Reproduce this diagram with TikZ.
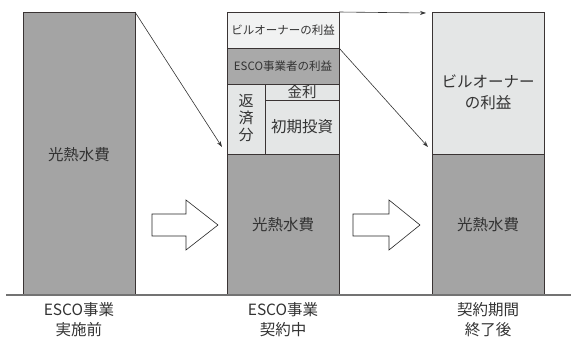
\documentclass[tikz,border=0pt]{standalone}
\usepackage{fontspec}
\setmainfont{Noto Sans CJK JP}
\usetikzlibrary{arrows.meta}
\definecolor{dkgray}{HTML}{A4A4A4}
\definecolor{midgray}{HTML}{A9A9A9}
\definecolor{ltgray}{HTML}{E4E6E6}
\definecolor{wgray}{HTML}{F1F2F2}
\definecolor{edge}{HTML}{3A3434}
\definecolor{txt}{HTML}{333333}
\tikzset{
  seg/.style={draw=edge, line width=0.9pt, inner sep=0pt, outer sep=0pt},
  lbl/.style={font=\fontsize{15.5}{20}\selectfont, text=txt, align=center, inner sep=0pt},
  small/.style={font=\fontsize{11.5}{13}\selectfont, text=txt, inner sep=0pt},
  ptr/.style={draw=black!80, line width=0.6pt, -{Stealth[length=6pt,width=4pt]}},
  bigarrow/.style={draw=black!85, fill=white, line width=0.6pt, line join=miter}
}
\begin{document}
\begin{tikzpicture}[x=1pt,y=-1pt]
\useasboundingbox (0,0) rectangle (571,340);
% left bar
\node[seg, fill=dkgray, minimum width=112pt, minimum height=283pt, anchor=north west] (L) at (23,12) {};
\node[lbl] (Lt) at (79,155) {光熱水費};
% middle bar
\node[seg, fill=wgray, minimum width=112pt, minimum height=36pt, anchor=north west] (Mo) at (227,12) {};
\node[small] (Mot) at (Mo.center) {ビルオーナーの利益};
\node[seg, fill=midgray, minimum width=112pt, minimum height=36pt, anchor=north west] (Me) at (227,48) {};
\node[small] (Met) at (Me.center) {ESCO事業者の利益};
\node[seg, fill=ltgray, minimum width=38pt, minimum height=70pt, anchor=north west] (Mr) at (227,84) {};
\node[lbl, font=\fontsize{15}{17}\selectfont] (Mrt) at (246,118) {返\\済\\分};
\node[seg, fill=ltgray, minimum width=74pt, minimum height=16pt, anchor=north west] (Mk) at (265,84) {};
\node[lbl, font=\fontsize{14.5}{15}\selectfont] (Mkt) at (302,91.5) {金利};
\node[seg, fill=ltgray, minimum width=74pt, minimum height=54pt, anchor=north west] (Mi) at (265,100) {};
\node[lbl, font=\fontsize{15.5}{17}\selectfont] (Mit) at (Mi.center) {初期投資};
\node[seg, fill=dkgray, minimum width=112pt, minimum height=141pt, anchor=north west] (Mc) at (227,154) {};
\node[lbl] (Mct) at (283,225) {光熱水費};
% right bar
\node[seg, fill=ltgray, minimum width=112pt, minimum height=142pt, anchor=north west] (Ro) at (432,12) {};
\node[lbl, font=\fontsize{15.5}{21}\selectfont] (Rot) at (488,92) {ビルオーナー\\の利益};
\node[seg, fill=dkgray, minimum width=112pt, minimum height=141pt, anchor=north west] (Rc) at (432,154) {};
\node[lbl] (Rct) at (488,225) {光熱水費};
% baseline
\coordinate (b0) at (6,295);
\coordinate (b1) at (571,295);
\draw[draw=black!55, line width=1.4pt] (b0) -- (b1);
% bottom labels
\node[lbl] (B1) at (79,320) {ESCO事業\\実施前};
\node[lbl] (B2) at (283,320) {ESCO事業\\契約中};
\node[lbl] (B3) at (488,320) {契約期間\\終了後};
% pointer arrows
\coordinate (p1) at (222,147);
\coordinate (p2) at (426,13);
\coordinate (p3) at (428,147);
\draw[ptr] (L.north east) -- (p1);
\draw[ptr] (Mo.north east) -- (p2);
\draw[ptr] (Me.north east) -- (p3);
% block arrows
\draw[bigarrow] (152,214) -- (186,214) -- (186,200) -- (218,225) -- (186,250) -- (186,236) -- (152,236) -- cycle;
\draw[bigarrow] (353,214) -- (389,214) -- (389,200) -- (420,225) -- (389,250) -- (389,236) -- (353,236) -- cycle;
\end{tikzpicture}
\end{document}
